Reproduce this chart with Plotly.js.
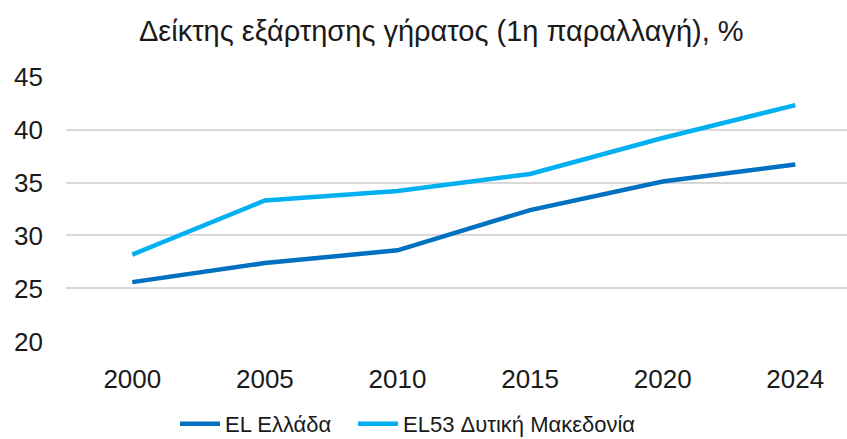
<!DOCTYPE html>
<html>
<head>
<meta charset="utf-8">
<script src="https://cdn.plot.ly/plotly-3.0.1.min.js"></script>
<style>html,body{margin:0;padding:0;background:#fff;}#chart{width:847px;height:439px;}</style>
</head>
<body>
<div id="chart"></div>
<script>
var years = ["2000", "2005", "2010", "2015", "2020", "2024"];
var greece = [25.6, 27.4, 28.6, 32.4, 35.1, 36.7];
var westMacedonia = [28.2, 33.3, 34.2, 35.8, 39.2, 42.3];
var yTicks = [20, 25, 30, 35, 40, 45];
var seriesNames = ["EL Ελλάδα", "EL53 Δυτική Μακεδονία"];
var chartTitle = "Δείκτης εξάρτησης γήρατος (1η παραλλαγή), %";

var font = "Liberation Sans, Arial, sans-serif";
var traces = [
  {x: years, y: greece, name: seriesNames[0], type: "scatter", mode: "lines",
   line: {color: "#0070C0", width: 4.5}, legend: "legend"},
  {x: years, y: westMacedonia, name: seriesNames[1], type: "scatter", mode: "lines",
   line: {color: "#00B0F0", width: 4.5}, legend: "legend2"}
];
var legendBase = {orientation: "h", xref: "container", xanchor: "left",
  yref: "container", y: 15 / 439, yanchor: "middle",
  font: {size: 22}, itemwidth: 40, bgcolor: "rgba(0,0,0,0)"};
var layout = {
  width: 847, height: 439,
  margin: {l: 66, r: 0, t: 76, b: 97, autoexpand: false},
  paper_bgcolor: "#fff", plot_bgcolor: "#fff",
  font: {family: font, color: "#1a1a1a", size: 26},
  title: {text: chartTitle, x: 0.521, xanchor: "center", y: 0.93, yanchor: "middle",
          font: {family: font, size: 29, color: "#1a1a1a"}},
  xaxis: {type: "category", range: [-0.5, 5.39], showgrid: false, zeroline: false,
          showline: false, ticks: "", tickfont: {size: 26}, ticklabelstandoff: 19},
  yaxis: {range: [19.95, 45.05], tickvals: yTicks, showgrid: true, gridcolor: "#d9d9d9", gridwidth: 2,
          zeroline: false, showline: false, ticks: "", tickfont: {size: 26}, ticklabelstandoff: 22},
  legend: Object.assign({}, legendBase, {x: 175 / 847}),
  legend2: Object.assign({}, legendBase, {x: 353 / 847}),
  showlegend: true
};
Plotly.newPlot("chart", traces, layout, {displayModeBar: false, staticPlot: true});
</script>
</body>
</html>
